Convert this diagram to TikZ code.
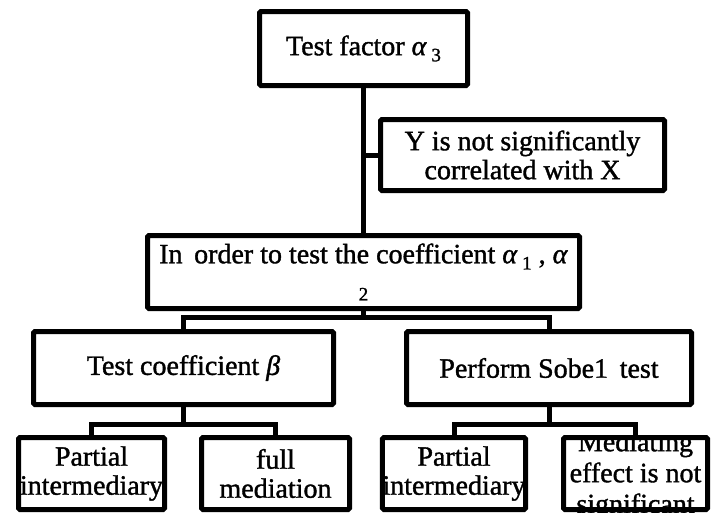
\documentclass[tikz,border=0pt]{standalone}
\usepackage{fontspec}
\setmainfont{Liberation Serif}[FakeBold=1.3]
\newcommand{\sbs}[1]{\raisebox{-0.22em}{\fontsize{19}{19}\selectfont #1}}
\begin{document}
\begin{tikzpicture}[x=1pt,y=-1pt,
  box/.style={draw=black, line width=5pt, rounded corners=1.5pt, inner sep=0pt, align=center, font=\fontsize{28}{29}\selectfont, text=black},
  txt/.style={inner sep=0pt, align=center, font=\fontsize{28}{31}\selectfont, text=black},
  conn/.style={draw=black, line width=5pt, line join=miter}]
\useasboundingbox (0,0) rectangle (713,514);
\fill[white] (0,0) rectangle (713,514);
% boxes
\node[box, minimum width=208pt, minimum height=74pt] (top) at (363.5,48.5) {Test factor \textit{α}\,\sbs{3}};
\node[box, minimum width=284pt, minimum height=71pt] (ybox) at (522.5,155) {Y is not significantly\\correlated with X};
\node[box, minimum width=432pt, minimum height=73pt] (mid) at (363.5,272) {In\, order to test the coefficient \textit{α}\,\sbs{1} , \textit{α}\\[2pt]\sbs{2}};
\node[box, minimum width=300pt, minimum height=73pt] (left2) at (183.5,368) {Test coefficient \textit{β}};
\node[box, minimum width=285pt, minimum height=73pt] (right2) at (549,368) {Perform Sobe1\, test};
\node[box, minimum width=146pt, minimum height=72pt] (b1) at (91.5,473.5) {Partial\\intermediary};
\node[box, minimum width=148pt, minimum height=72pt] (b2) at (275.5,473.5) {full\\mediation};
\node[box, minimum width=141pt, minimum height=72pt] (b3) at (454,473.5) {Partial\\intermediary};
\node[box, minimum width=144pt, minimum height=72pt] (b4) at (635.5,473.5) {};
\begin{scope}
  \clip (b4.south west) rectangle (b4.north east);
  \node[txt] (b4t) at ([yshift=-2pt]b4.center) {Mediating\\effect is not\\significant};
\end{scope}
% connectors
\draw[conn] (top.south) -- (mid.north);
\coordinate (j) at (363.5,155);
\draw[conn] (j) -- (ybox.west);
\draw[conn] (mid.south) -- ++(0,6.5) -| (left2.north);
\draw[conn] (mid.south) -- ++(0,6.5) -| (right2.north);
\draw[conn] (left2.south) -- ++(0,17) -| (b1.north);
\draw[conn] (left2.south) -- ++(0,17) -| (b2.north);
\draw[conn] (right2.south) -- ++(0,17) -| (b3.north);
\draw[conn] (right2.south) -- ++(0,17) -| (b4.north);
\end{tikzpicture}
\end{document}
